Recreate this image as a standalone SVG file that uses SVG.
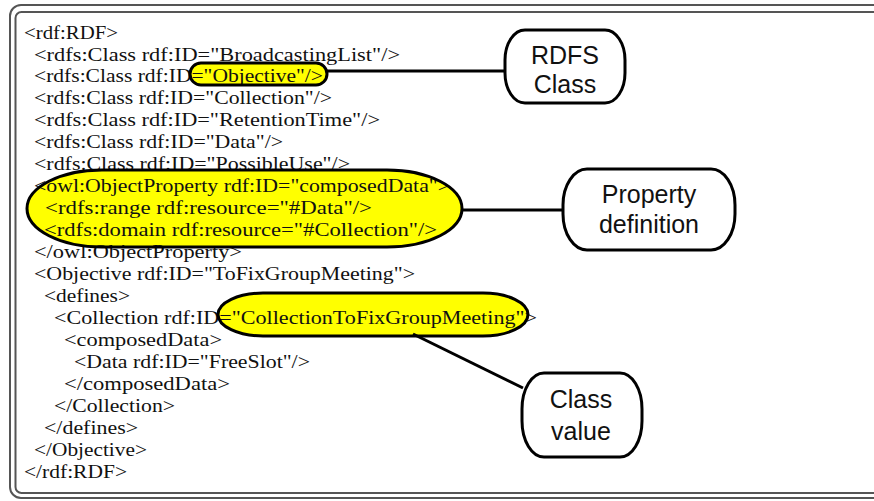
<svg xmlns="http://www.w3.org/2000/svg" width="874" height="501" viewBox="0 0 874 501">
  <style>
    .frame { fill: none; stroke: #555; stroke-width: 2; }
    .code { font-family: "Liberation Serif", "Times New Roman", serif; font-size: 19px; fill: #111; }
    .hl-fill { fill: #ffff00; stroke: none; }
    .hl-line { fill: none; stroke: #000; stroke-width: 3; }
    .conn { stroke: #000; stroke-width: 3; fill: none; }
    .box { fill: #fff; stroke: #000; stroke-width: 3; }
    .label { font-family: "Liberation Sans", Arial, sans-serif; font-size: 25px; fill: #111; text-anchor: middle; }
  </style>

  <rect width="874" height="501" fill="#fff"/>

  <!-- double frame, right edge runs off the page -->
  <g id="frame">
    <rect class="frame" x="10" y="5" width="890" height="493" rx="11" ry="11"/>
    <rect class="frame" x="15.5" y="12" width="880" height="481" rx="6" ry="6"/>
  </g>

  <!-- yellow highlight fills sit beneath the code -->
  <g id="highlight-fills">
    <rect class="hl-fill" x="190" y="63" width="137" height="22" rx="11" ry="11"/>
    <rect class="hl-fill" x="27" y="170" width="435" height="77" rx="75" ry="38.5"/>
    <rect class="hl-fill" x="218" y="293" width="310" height="43" rx="45" ry="21.5"/>
  </g>

  <!-- RDF/OWL listing -->
  <g id="code-listing" class="code">
    <text x="24" y="38.5" textLength="94" lengthAdjust="spacingAndGlyphs">&lt;rdf:RDF&gt;</text>
    <text x="34" y="60.5" textLength="366" lengthAdjust="spacingAndGlyphs">&lt;rdfs:Class rdf:ID="BroadcastingList"/&gt;</text>
    <text x="34" y="82.4" textLength="289" lengthAdjust="spacingAndGlyphs">&lt;rdfs:Class rdf:ID="Objective"/&gt;</text>
    <text x="34" y="104.4" textLength="298" lengthAdjust="spacingAndGlyphs">&lt;rdfs:Class rdf:ID="Collection"/&gt;</text>
    <text x="34" y="126.4" textLength="346" lengthAdjust="spacingAndGlyphs">&lt;rdfs:Class rdf:ID="RetentionTime"/&gt;</text>
    <text x="34" y="148.4" textLength="249" lengthAdjust="spacingAndGlyphs">&lt;rdfs:Class rdf:ID="Data"/&gt;</text>
    <text x="34" y="170.3" textLength="316" lengthAdjust="spacingAndGlyphs">&lt;rdfs:Class rdf:ID="PossibleUse"/&gt;</text>
    <text x="34" y="192.3" textLength="416" lengthAdjust="spacingAndGlyphs">&lt;owl:ObjectProperty rdf:ID="composedData"&gt;</text>
    <text x="45" y="214.3" textLength="327" lengthAdjust="spacingAndGlyphs">&lt;rdfs:range rdf:resource="#Data"/&gt;</text>
    <text x="44" y="236.2" textLength="393" lengthAdjust="spacingAndGlyphs">&lt;rdfs:domain rdf:resource="#Collection"/&gt;</text>
    <text x="34" y="258.2" textLength="208" lengthAdjust="spacingAndGlyphs">&lt;/owl:ObjectProperty&gt;</text>
    <text x="34" y="280.2" textLength="381" lengthAdjust="spacingAndGlyphs">&lt;Objective rdf:ID="ToFixGroupMeeting"&gt;</text>
    <text x="44" y="302.1" textLength="86" lengthAdjust="spacingAndGlyphs">&lt;defines&gt;</text>
    <text x="54" y="324.1" textLength="483" lengthAdjust="spacingAndGlyphs">&lt;Collection rdf:ID="CollectionToFixGroupMeeting"&gt;</text>
    <text x="64" y="346.1" textLength="158" lengthAdjust="spacingAndGlyphs">&lt;composedData&gt;</text>
    <text x="74" y="368.1" textLength="236" lengthAdjust="spacingAndGlyphs">&lt;Data rdf:ID="FreeSlot"/&gt;</text>
    <text x="64" y="390" textLength="166" lengthAdjust="spacingAndGlyphs">&lt;/composedData&gt;</text>
    <text x="54" y="412" textLength="121" lengthAdjust="spacingAndGlyphs">&lt;/Collection&gt;</text>
    <text x="44" y="434" textLength="94" lengthAdjust="spacingAndGlyphs">&lt;/defines&gt;</text>
    <text x="34" y="455.9" textLength="113" lengthAdjust="spacingAndGlyphs">&lt;/Objective&gt;</text>
    <text x="24" y="477.9" textLength="103" lengthAdjust="spacingAndGlyphs">&lt;/rdf:RDF&gt;</text>
  </g>

  <!-- highlight outlines drawn over the code -->
  <g id="highlight-objective">
    <rect class="hl-line" x="190" y="63" width="137" height="22" rx="11" ry="11"/>
  </g>
  <g id="highlight-property">
    <rect class="hl-line" x="27" y="170" width="435" height="77" rx="75" ry="38.5"/>
  </g>
  <g id="highlight-collection">
    <rect class="hl-line" x="218" y="293" width="310" height="43" rx="45" ry="21.5"/>
  </g>

  <!-- connectors -->
  <g id="connectors">
    <line class="conn" x1="327" y1="71" x2="505" y2="71"/>
    <line class="conn" x1="462" y1="210" x2="563" y2="210"/>
    <line class="conn" x1="413" y1="334" x2="523" y2="388"/>
  </g>

  <!-- callouts -->
  <g id="rdfs-class">
    <rect class="box" x="505" y="30" width="120" height="73" rx="20" ry="30"/>
    <text class="label" x="565" y="64">RDFS</text>
    <text class="label" x="565" y="93">Class</text>
  </g>
  <g id="property-definition">
    <rect class="box" x="563" y="169" width="172" height="81" rx="24" ry="36"/>
    <text class="label" x="649" y="203">Property</text>
    <text class="label" x="649" y="233">definition</text>
  </g>
  <g id="class-value">
    <rect class="box" x="522" y="373" width="120" height="84" rx="22" ry="36"/>
    <text class="label" x="581" y="408">Class</text>
    <text class="label" x="581" y="440">value</text>
  </g>
</svg>
